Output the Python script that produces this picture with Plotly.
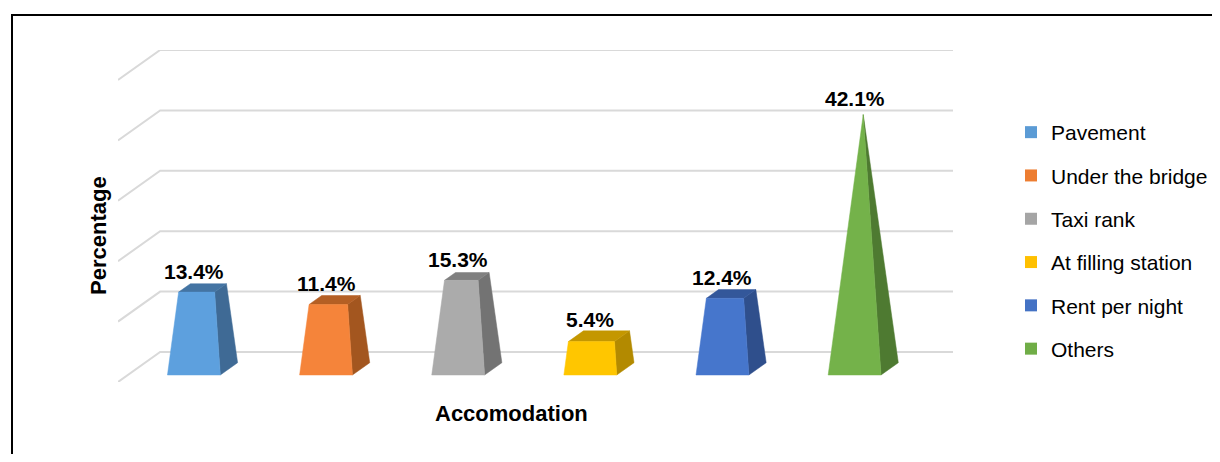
import plotly.graph_objects as go

categories = ['Pavement', 'Under the bridge', 'Taxi rank', 'At filling station', 'Rent per night', 'Others']
percentages = [13.4, 11.4, 15.3, 5.4, 12.4, 42.1]
grid_ticks = [0, 10, 20, 30, 40, 50]

front_colors = ['#5DA0DE', '#F5843A', '#ABABAB', '#FFC600', '#4676CC', '#74B24A']
side_colors = ['#3F6A95', '#A3561F', '#737373', '#B38A00', '#2F4F8C', '#4E7A31']
top_colors = ['#4474A3', '#B45F24', '#808080', '#C49700', '#33579A', '#56873A']
legend_colors = ['#5B9BD5', '#ED7D31', '#A5A5A5', '#FFC000', '#4472C4', '#70AD47']

# page puts the figure 8px in from the top-left corner
OFF = 8
W, H = 1220 - 2 * OFF, 462 - 2 * OFF
PLOT_L, PLOT_R, PLOT_T, PLOT_B = 118 - OFF, 953 - OFF, 50 - OFF, 382 - OFF

# oblique 3D projection: full floor depth shifts right / down
DEPTH_X = 0.319   # category units
DEPTH_Y = 4.97    # percent units
BAR_W = 0.40
Z_FRONT, Z_BACK = 0.233, 0.643
Z_MID = (Z_FRONT + Z_BACK) / 2
APEX = max(percentages)


def proj(x, y, z):
    return x + z * DEPTH_X, y - (1 - z) * DEPTH_Y


def poly(points):
    pts = [proj(*p) for p in points]
    xs = [p[0] for p in pts] + [pts[0][0]]
    ys = [p[1] for p in pts] + [pts[0][1]]
    return xs, ys


def px_paper(px, py):
    # px, py are page pixels as measured on the reference
    px, py = px - OFF, py - OFF
    return (px - PLOT_L) / (PLOT_R - PLOT_L), (PLOT_B - py) / (PLOT_B - PLOT_T)


fig = go.Figure()

# back wall gridlines with the slanted side wall segment
x_lo, x_hi = -0.5, len(categories) - 0.5
for t in grid_ticks:
    pts = [proj(x_lo, t, 0), proj(x_lo, t, 1), proj(x_hi, t, 1)]
    fig.add_trace(go.Scatter(
        x=[p[0] for p in pts], y=[p[1] for p in pts],
        mode='lines', line=dict(color='#D9D9D9', width=2),
        hoverinfo='skip', showlegend=False))

# truncated pyramids
annotations = []
for i, (cat, v) in enumerate(zip(categories, percentages)):
    s = 1 - v / APEX
    hw = BAR_W / 2
    hd = (Z_BACK - Z_FRONT) / 2
    xl, xr = i - hw, i + hw
    xlt, xrt = i - s * hw, i + s * hw
    zft, zbt = Z_MID - s * hd, Z_MID + s * hd

    faces = [
        ([(xr, 0, Z_FRONT), (xr, 0, Z_BACK), (xrt, v, zbt), (xrt, v, zft)], side_colors[i]),
        ([(xlt, v, zft), (xrt, v, zft), (xrt, v, zbt), (xlt, v, zbt)], top_colors[i]),
        ([(xl, 0, Z_FRONT), (xr, 0, Z_FRONT), (xrt, v, zft), (xlt, v, zft)], front_colors[i]),
    ]
    for pts, col in faces:
        xs, ys = poly(pts)
        fig.add_trace(go.Scatter(
            x=xs, y=ys, mode='lines', fill='toself', fillcolor=col,
            line=dict(color=col, width=0.5),
            hoverinfo='skip', showlegend=False))

    lx, _ = proj(i, v, Z_FRONT)
    _, ly = proj(i, v, Z_MID)
    annotations.append(dict(
        x=lx, y=ly, xref='x', yref='y', text=f'{v}%', showarrow=False,
        xanchor='center', yanchor='bottom', yshift=3,
        font=dict(family='Liberation Sans', size=21, color='black', weight='bold')))

# legend entries
for i, cat in enumerate(categories):
    fig.add_trace(go.Scatter(
        x=[None], y=[None], mode='markers', name=cat,
        legendgroup=cat,
        marker=dict(symbol='square', size=12, color=legend_colors[i])))

tx, ty = px_paper(98, 236)
annotations.append(dict(
    x=tx, y=ty, xref='paper', yref='paper', text='Percentage', textangle=-90,
    xanchor='center', yanchor='middle', showarrow=False,
    font=dict(family='Liberation Sans', size=22, color='black', weight='bold')))
tx, ty = px_paper(511, 413)
annotations.append(dict(
    x=tx, y=ty, xref='paper', yref='paper', text='Accomodation',
    xanchor='center', yanchor='middle', showarrow=False,
    font=dict(family='Liberation Sans', size=22, color='black', weight='bold')))

fx0, fy0 = px_paper(12, 15)
lgx, lgy = px_paper(1011, 112)

fig.update_layout(
    width=W, height=H,
    margin=dict(l=PLOT_L, r=W - PLOT_R, t=PLOT_T, b=H - PLOT_B, autoexpand=False),
    plot_bgcolor='white', paper_bgcolor='white',
    xaxis=dict(range=[x_lo, x_hi + DEPTH_X], visible=False, fixedrange=True),
    yaxis=dict(range=[-DEPTH_Y, max(grid_ticks)], visible=False, fixedrange=True),
    annotations=annotations,
    shapes=[dict(type='rect', xref='paper', yref='paper',
                 x0=fx0, y0=-1, x1=2, y1=fy0,
                 line=dict(color='black', width=2))],
    legend=dict(
        x=lgx, y=lgy, xanchor='left', yanchor='top',
        font=dict(family='Liberation Sans', size=21, color='black'),
        tracegroupgap=13, itemwidth=30, bgcolor='rgba(0,0,0,0)'),
)

fig.write_html("out.html")
